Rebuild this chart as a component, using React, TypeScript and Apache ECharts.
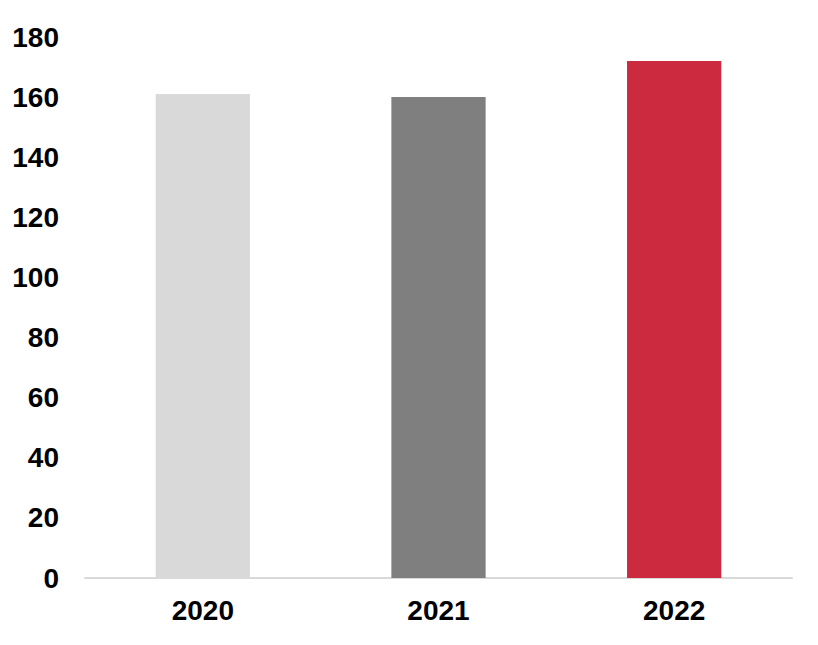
import { useEffect, useRef } from 'react'
import * as echarts from 'echarts'

const years = ['2020', '2021', '2022']
const values = [161, 160, 172]
const barColors = ['#d9d9d9', '#7f7f7f', '#cc2b3f']

export default function App() {
  const ref = useRef<HTMLDivElement | null>(null)

  useEffect(() => {
    if (!ref.current) return
    const chart = echarts.init(ref.current, null, { renderer: 'svg' })
    const labelStyle = {
      color: '#000',
      fontSize: 28,
      fontWeight: 'bold' as const,
      fontFamily: 'Liberation Sans, Arial, sans-serif'
    }
    chart.setOption({
      animation: false,
      backgroundColor: '#fff',
      grid: { left: 85, right: 26, top: 37, bottom: 67, containLabel: false },
      xAxis: {
        type: 'category',
        data: years,
        axisLine: { lineStyle: { color: '#d9d9d9', width: 2 } },
        axisTick: { show: false },
        axisLabel: { ...labelStyle, margin: 18 }
      },
      yAxis: {
        type: 'value',
        min: 0,
        max: 180,
        interval: 20,
        axisLine: { show: false },
        axisTick: { show: false },
        splitLine: { show: false },
        axisLabel: { ...labelStyle, margin: 26 }
      },
      series: [
        {
          type: 'bar',
          barWidth: '40%',
          data: values.map((v, i) => ({ value: v, itemStyle: { color: barColors[i] } }))
        }
      ]
    })
    return () => chart.dispose()
  }, [])

  return (
    <div
      ref={ref}
      style={{ position: 'absolute', left: 0, top: 0, width: 818, height: 645 }}
    />
  )
}
